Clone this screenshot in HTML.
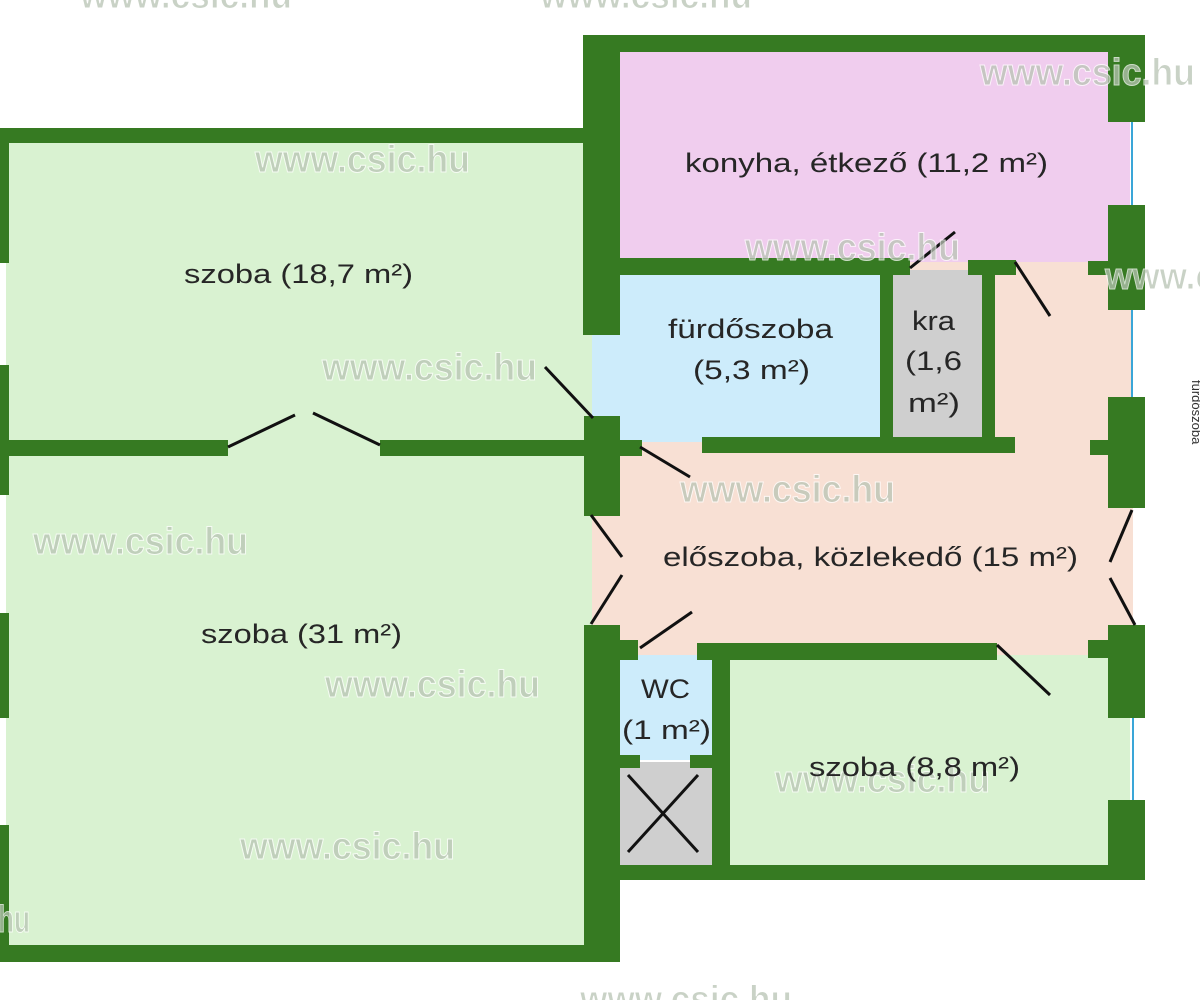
<!DOCTYPE html>
<html><head><meta charset="utf-8"><style>
html,body{margin:0;padding:0;background:#fff;}
svg{display:block}
.t{font-family:"Liberation Sans",sans-serif;font-size:27px;fill:#262626;}
.w{font-family:"Liberation Sans",sans-serif;font-size:38px;font-weight:bold;fill:#b8c4b4;stroke:#ffffff;stroke-width:1;opacity:.75}
</style></head><body>
<svg width="1200" height="1000" viewBox="0 0 1200 1000" xmlns="http://www.w3.org/2000/svg">
<rect width="1200" height="1000" fill="#fff"/>
<rect x="6" y="140" width="586" height="312" fill="#d9f2d1"/>
<rect x="6" y="448" width="586" height="502" fill="#d9f2d1"/>
<rect x="615" y="50" width="515" height="215" fill="#f0cdee"/>
<rect x="592" y="262" width="541" height="398" fill="#f8e0d4"/>
<rect x="592" y="270" width="292" height="172" fill="#cdecfb"/>
<rect x="890" y="270" width="95" height="172" fill="#cfcfcf"/>
<rect x="615" y="655" width="100" height="105" fill="#cdecfb"/>
<rect x="615" y="762" width="100" height="108" fill="#cfcfcf"/>
<rect x="725" y="655" width="405" height="215" fill="#d9f2d1"/>
<line x1="1132" y1="110" x2="1132" y2="400" stroke="#3aa6d8" stroke-width="2"/>
<line x1="1133" y1="710" x2="1133" y2="805" stroke="#3aa6d8" stroke-width="2"/>
<g fill="#367a22">
<rect x="0" y="128" width="9" height="135"/>
<rect x="0" y="365" width="9" height="130"/>
<rect x="0" y="613" width="9" height="105"/>
<rect x="0" y="825" width="9" height="137"/>
<rect x="0" y="128" width="600" height="15"/>
<rect x="0" y="945" width="620" height="17"/>
<rect x="0" y="440" width="228" height="16"/>
<rect x="380" y="440" width="262" height="16"/>
<rect x="583" y="35" width="37" height="300"/>
<rect x="584" y="416" width="36" height="100"/>
<rect x="584" y="625" width="36" height="337"/>
<rect x="584" y="640" width="54" height="20"/>
<rect x="583" y="35" width="562" height="17"/>
<rect x="620" y="258" width="290" height="17"/>
<rect x="968" y="260" width="48" height="15"/>
<rect x="1108" y="35" width="37" height="87"/>
<rect x="1108" y="205" width="37" height="105"/>
<rect x="1088" y="261" width="30" height="14"/>
<rect x="880" y="270" width="13" height="170"/>
<rect x="982" y="268" width="13" height="172"/>
<rect x="702" y="437" width="313" height="16"/>
<rect x="1108" y="397" width="37" height="111"/>
<rect x="1090" y="440" width="25" height="15"/>
<rect x="1108" y="625" width="37" height="93"/>
<rect x="1088" y="640" width="25" height="18"/>
<rect x="1108" y="800" width="37" height="80"/>
<rect x="697" y="643" width="300" height="17"/>
<rect x="712" y="655" width="18" height="215"/>
<rect x="620" y="755" width="20" height="13"/>
<rect x="690" y="755" width="25" height="13"/>
<rect x="584" y="865" width="561" height="15"/>
</g>
<g stroke="#111" stroke-width="3" fill="none">
<line x1="228" y1="447" x2="295" y2="415"/>
<line x1="313" y1="413" x2="380" y2="445"/>
<line x1="545" y1="367" x2="593" y2="418"/>
<line x1="640" y1="447" x2="690" y2="477"/>
<line x1="591" y1="515" x2="622" y2="557"/>
<line x1="622" y1="575" x2="591" y2="624"/>
<line x1="640" y1="648" x2="692" y2="612"/>
<line x1="910" y1="268" x2="955" y2="232"/>
<line x1="1015" y1="262" x2="1050" y2="316"/>
<line x1="1132" y1="510" x2="1110" y2="562"/>
<line x1="1110" y1="578" x2="1135" y2="625"/>
<line x1="997" y1="645" x2="1050" y2="695"/>
<line x1="628" y1="775" x2="698" y2="852"/>
<line x1="628" y1="852" x2="698" y2="775"/>
</g>
<g class="w">
<text x="80" y="8" textLength="212" lengthAdjust="spacingAndGlyphs">www.csic.hu</text>
<text x="540" y="8" textLength="212" lengthAdjust="spacingAndGlyphs">www.csic.hu</text>
<text x="980" y="85" textLength="215" lengthAdjust="spacingAndGlyphs">www.csic.hu</text>
<text x="255" y="172" textLength="215" lengthAdjust="spacingAndGlyphs">www.csic.hu</text>
<text x="745" y="260" textLength="215" lengthAdjust="spacingAndGlyphs">www.csic.hu</text>
<text x="1105" y="289" textLength="110" lengthAdjust="spacingAndGlyphs">www.c</text>
<text x="322" y="380" textLength="215" lengthAdjust="spacingAndGlyphs">www.csic.hu</text>
<text x="680" y="502" textLength="215" lengthAdjust="spacingAndGlyphs">www.csic.hu</text>
<text x="33" y="554" textLength="215" lengthAdjust="spacingAndGlyphs">www.csic.hu</text>
<text x="325" y="697" textLength="215" lengthAdjust="spacingAndGlyphs">www.csic.hu</text>
<text x="775" y="792" textLength="215" lengthAdjust="spacingAndGlyphs">www.csic.hu</text>
<text x="240" y="859" textLength="215" lengthAdjust="spacingAndGlyphs">www.csic.hu</text>
<text x="-2" y="932" textLength="32" lengthAdjust="spacingAndGlyphs">hu</text>
<text x="580" y="1012" textLength="212" lengthAdjust="spacingAndGlyphs">www.csic.hu</text>
</g>
<g class="t">
<text x="685" y="172" textLength="363" lengthAdjust="spacingAndGlyphs">konyha, étkező (11,2 m²)</text>
<text x="184" y="283" textLength="229" lengthAdjust="spacingAndGlyphs">szoba (18,7 m²)</text>
<text x="668" y="338" textLength="165" lengthAdjust="spacingAndGlyphs">fürdőszoba</text>
<text x="693" y="379" textLength="117" lengthAdjust="spacingAndGlyphs">(5,3 m²)</text>
<text x="912" y="330" textLength="43" lengthAdjust="spacingAndGlyphs">kra</text>
<text x="905" y="370" textLength="57" lengthAdjust="spacingAndGlyphs">(1,6</text>
<text x="908" y="412" textLength="52" lengthAdjust="spacingAndGlyphs">m²)</text>
<text x="663" y="566" textLength="415" lengthAdjust="spacingAndGlyphs">előszoba, közlekedő (15 m²)</text>
<text x="201" y="643" textLength="201" lengthAdjust="spacingAndGlyphs">szoba (31 m²)</text>
<text x="641" y="698" textLength="49" lengthAdjust="spacingAndGlyphs">WC</text>
<text x="622" y="739" textLength="89" lengthAdjust="spacingAndGlyphs">(1 m²)</text>
<text x="809" y="776" textLength="211" lengthAdjust="spacingAndGlyphs">szoba (8,8 m²)</text>
</g>
<text x="1192" y="380" font-family="Liberation Sans" font-size="13" fill="#333" transform="rotate(90 1192 380)">fürdőszoba</text>
</svg>
</body></html>
